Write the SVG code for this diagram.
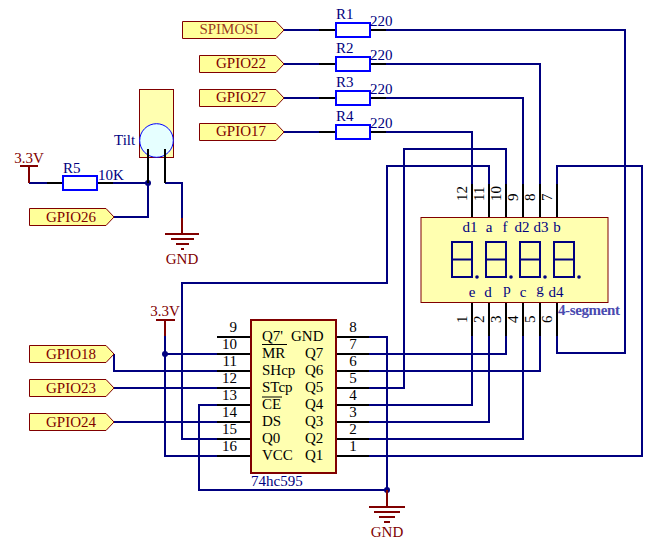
<svg xmlns="http://www.w3.org/2000/svg" width="656" height="547" viewBox="0 0 656 547">
<style>
text{font-family:"Liberation Serif","Times New Roman",serif;font-size:15px}
.w{fill:none;stroke:#000080;stroke-width:2}
.p{fill:none;stroke:#000;stroke-width:2}
.r{fill:none;stroke:#800000;stroke-width:2}
.j{fill:#000080;stroke:none}
.port{fill:#ffff99;stroke:#800000;stroke-width:1}
.portt{fill:#800000;text-anchor:middle}
.res{fill:#fff;stroke:#0000ff;stroke-width:2}
.n{fill:#000080}
.k{fill:#000}
.m{text-anchor:middle}
.e{text-anchor:end}
.seg{fill:none;stroke:#000080;stroke-width:2}
.pw{fill:#800000}
</style>
<rect width="656" height="547" fill="#fff"/>
<g id="connectors">
<path class="w" d="M284 30H319M386 30H625V353H557V336"/>
<path class="w" d="M284 64H319M386 64H540V184"/>
<path class="w" d="M284 98H319M386 98H523V184"/>
<path class="w" d="M284 132H319M386 132H472V184"/>
<path class="w" d="M369 388H404V149H506V184"/>
<path class="w" d="M217 439H182V283H387V166H489V184"/>
<path class="w" d="M369 456H642V166H557V184"/>
<path class="w" d="M472 336V405H369"/>
<path class="w" d="M489 336V422H369"/>
<path class="w" d="M506 336V354H369"/>
<path class="w" d="M523 336V439H369"/>
<path class="w" d="M540 336V371H369"/>
<path class="w" d="M369 337H387V490H199V405H217"/>
<path class="w" d="M114 354V371H217"/>
<path class="w" d="M114 388H217"/>
<path class="w" d="M114 422H217"/>
<path class="w" d="M165 336V456H217M165 354H217"/>
<path class="w" d="M29 183H47M113 183H148M148 183V217H114"/>
<path class="w" d="M165 183H182V218"/>
<circle class="j" cx="148" cy="183" r="3"/>
<circle class="j" cx="165" cy="354" r="3"/>
<circle class="j" cx="387" cy="490" r="3"/>
</g>
<g id="SPIMOSI"><polygon class="port" points="182.500,21.500 276,21.500 284,30 276,38.500 182.500,38.500"/><text class="portt" x="229" y="34" fill-opacity="0.8">SPIMOSI</text></g>
<g id="GPIO22"><polygon class="port" points="199.500,55.500 276,55.500 284,64 276,72.500 199.500,72.500"/><text class="portt" x="241" y="68">GPIO22</text></g>
<g id="GPIO27"><polygon class="port" points="199.500,89.500 276,89.500 284,98 276,106.500 199.500,106.500"/><text class="portt" x="241" y="102">GPIO27</text></g>
<g id="GPIO17"><polygon class="port" points="199.500,123.500 276,123.500 284,132 276,140.500 199.500,140.500"/><text class="portt" x="241" y="136">GPIO17</text></g>
<g id="GPIO26"><polygon class="port" points="29.500,208.500 106,208.500 114,217 106,225.500 29.500,225.500"/><text class="portt" x="71" y="222">GPIO26</text></g>
<g id="GPIO18"><polygon class="port" points="29.500,345.500 106,345.500 114,354 106,362.500 29.500,362.500"/><text class="portt" x="71" y="359">GPIO18</text></g>
<g id="GPIO23"><polygon class="port" points="29.500,379.500 106,379.500 114,388 106,396.500 29.500,396.500"/><text class="portt" x="71" y="393">GPIO23</text></g>
<g id="GPIO24"><polygon class="port" points="29.500,413.500 106,413.500 114,422 106,430.500 29.500,430.500"/><text class="portt" x="71" y="427">GPIO24</text></g>
<g id="R1"><path class="p" d="M319 30H336M370 30H386"/><rect class="res" x="336" y="23" width="34" height="14"/><text class="n" x="336" y="19">R1</text><text class="n" x="370" y="26">220</text></g>
<g id="R2"><path class="p" d="M319 64H336M370 64H386"/><rect class="res" x="336" y="57" width="34" height="14"/><text class="n" x="336" y="53">R2</text><text class="n" x="370" y="60">220</text></g>
<g id="R3"><path class="p" d="M319 98H336M370 98H386"/><rect class="res" x="336" y="91" width="34" height="14"/><text class="n" x="336" y="87">R3</text><text class="n" x="370" y="94">220</text></g>
<g id="R4"><path class="p" d="M319 132H336M370 132H386"/><rect class="res" x="336" y="125" width="34" height="14"/><text class="n" x="336" y="121">R4</text><text class="n" x="370" y="128">220</text></g>
<g id="R5"><path class="p" d="M47 183H63M97 183H113"/><rect class="res" x="63" y="176" width="34" height="14"/><text class="n" x="63" y="173">R5</text><text class="n" x="98" y="180">10K</text></g>
<g id="V33-top"><path class="r" d="M20 166H38M29 166V183"/><text class="pw m" x="29" y="163">3.3V</text></g>
<g id="V33-bottom"><path class="r" d="M156 320H175M165 320V336"/><text class="pw m" x="165" y="316">3.3V</text></g>
<g id="GND-top"><path class="r" d="M182 218V234M165 234H199M171 239H194M176 244H189M181 249H184"/><text class="pw m" x="182" y="264">GND</text></g>
<g id="GND-bottom"><path class="r" d="M387 490V507M369 507H405M374 512H400M379 517H395M384 522H390"/><text class="pw m" x="387" y="537">GND</text></g>
<g id="Tilt">
<rect x="139.500" y="89.500" width="34" height="68" fill="#ffffb0" stroke="#800000" stroke-width="1"/>
<circle cx="156.500" cy="140.500" r="16.800" fill="#e6ffff" stroke="#0000ff" stroke-width="1"/>
<path d="M148 149V183M165 149V183" fill="none" stroke="#000" stroke-width="2"/>
<text class="n" x="114" y="145">Tilt</text>
</g>
<g id="display">
<path class="p" d="M472 184V217M489 184V217M506 184V217M523 184V217M540 184V217M557 184V217M472 302V336M489 302V336M506 302V336M523 302V336M540 302V336M557 302V336"/>
<rect x="421" y="217.500" width="187" height="85" fill="#ffffb0" stroke="#800000" stroke-width="1"/>
<path class="seg" d="M452 242H472V277H452ZM452 259.500H472M486 242H506V277H486ZM486 259.500H506M520 242H540V277H520ZM520 259.500H540M554 242H574V277H554ZM554 259.500H574"/>
<circle class="j" cx="477" cy="277" r="1.800"/><circle class="j" cx="511" cy="277" r="1.800"/><circle class="j" cx="545" cy="277" r="1.800"/><circle class="j" cx="579" cy="277" r="1.800"/>
<g class="n">
<text class="m n" x="470" y="232">d1</text><text class="m n" x="489" y="232">a</text><text class="m n" x="505" y="232">f</text><text class="m n" x="522" y="232">d2</text><text class="m n" x="541" y="232">d3</text><text class="m n" x="557" y="232">b</text>
<text class="m n" x="472" y="297">e</text><text class="m n" x="488" y="297">d</text><text class="m n" x="507" y="294">p</text><text class="m n" x="523" y="297">c</text><text class="m n" x="540" y="294">g</text><text class="m n" x="556" y="297">d4</text>
</g>
<g class="k">
<text transform="translate(467 201) rotate(-90)">12</text><text transform="translate(484 201) rotate(-90)">11</text><text transform="translate(501 201) rotate(-90)">10</text><text transform="translate(518 201) rotate(-90)">9</text><text transform="translate(535 201) rotate(-90)">8</text><text transform="translate(552 201) rotate(-90)">7</text>
<text transform="translate(467 323) rotate(-90)">1</text><text transform="translate(484 323) rotate(-90)">2</text><text transform="translate(501 323) rotate(-90)">3</text><text transform="translate(518 323) rotate(-90)">4</text><text transform="translate(535 323) rotate(-90)">5</text><text transform="translate(552 323) rotate(-90)">6</text>
</g>
<text x="558" y="315" font-weight="bold" fill="#4a4ab0" textLength="62">4-segment</text>
</g>
<g id="chip74hc595">
<path class="p" d="M217 337H251M217 354H251M217 371H251M217 388H251M217 405H251M217 422H251M217 439H251M217 456H251M336 337H369M336 354H369M336 371H369M336 388H369M336 405H369M336 422H369M336 439H369M336 456H369"/>
<rect x="251" y="320" width="85" height="153" fill="#ffffb0" stroke="#800000" stroke-width="2"/>
<g class="k">
<text x="262" y="341">Q7'</text><text x="262" y="358">MR</text><text x="262" y="375">SHcp</text><text x="262" y="392">STcp</text><text x="262" y="409">CE</text><text x="262" y="426">DS</text><text x="262" y="443">Q0</text><text x="262" y="460">VCC</text>
<text x="291" y="341">GND</text><text x="305" y="358">Q7</text><text x="305" y="375">Q6</text><text x="305" y="392">Q5</text><text x="305" y="409">Q4</text><text x="305" y="426">Q3</text><text x="305" y="443">Q2</text><text x="305" y="460">Q1</text>
<text class="e" x="237" y="332">9</text><text class="e" x="237" y="349">10</text><text class="e" x="237" y="366">11</text><text class="e" x="237" y="383">12</text><text class="e" x="237" y="400">13</text><text class="e" x="237" y="417">14</text><text class="e" x="237" y="434">15</text><text class="e" x="237" y="451">16</text>
<text class="m" x="353" y="332">8</text><text class="m" x="353" y="349">7</text><text class="m" x="353" y="366">6</text><text class="m" x="353" y="383">5</text><text class="m" x="353" y="400">4</text><text class="m" x="353" y="417">3</text><text class="m" x="353" y="434">2</text><text class="m" x="353" y="451">1</text>
</g>
<path d="M262 344.500H287M262 397H282" fill="none" stroke="#000" stroke-width="1"/>
<text class="n" x="251" y="486">74hc595</text>
</g>
</svg>
